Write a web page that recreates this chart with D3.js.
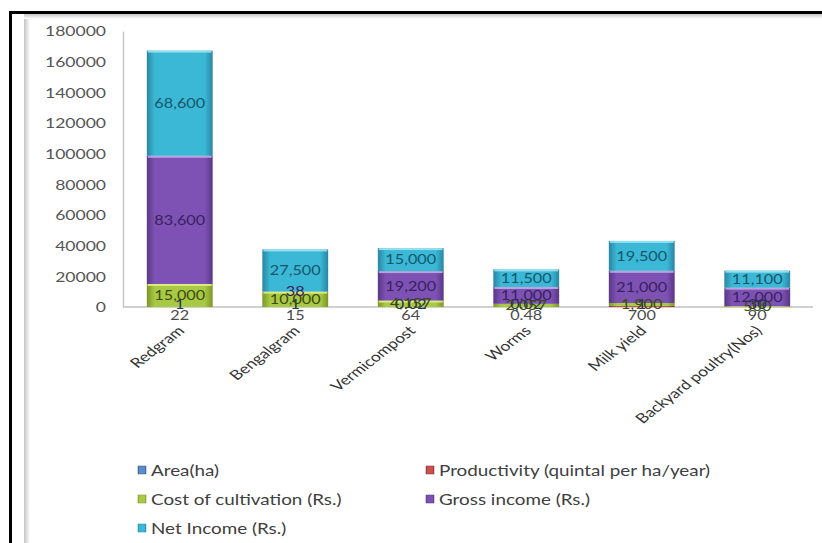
<!DOCTYPE html>
<html>
<head>
<meta charset="utf-8">
<script src="https://cdn.jsdelivr.net/npm/d3@7"></script>
<style>
  html, body { margin: 0; padding: 0; background: #fff; }
  svg { display: block; }
  text { font-family: Lato, "Open Sans", sans-serif; }
</style>
</head>
<body>
<div id="chart"></div>
<script>
// data
const categories = ['Redgram', 'Bengalgram', 'Vermicompost', 'Worms', 'Milk yield', 'Backyard poultry(Nos)'];
const area = [1, 1, 0.02, 0.02, 1, 30];
const productivity = [22, 15, 64, 0.48, 700, 90];
const costCultivation = [15000, 10000, 4157, 2057, 1900, 500];
const grossIncome = [83600, 38, 19200, 11000, 21000, 12000];
const netIncome = [68600, 27500, 15000, 11500, 19500, 11100];
const seriesNames = ['Area(ha)', 'Productivity (quintal per ha/year)', 'Cost of cultivation (Rs.)', 'Gross income (Rs.)', 'Net Income (Rs.)'];
const yTicks = [0, 20000, 40000, 60000, 80000, 100000, 120000, 140000, 160000, 180000];

const keys = ['area', 'prod', 'cost', 'gross', 'net'];
const colors = {
  area:  {edge: '#34598a', mid: '#5b8cc8', top: '#9dbbe2', label: '#1f3550'},
  prod:  {edge: '#8a2f2d', mid: '#c9524f', top: '#e49a98', label: '#5a1e1c'},
  cost:  {edge: '#7a9626', mid: '#a8c944', top: '#e6f08a', label: '#3c4a0c'},
  gross: {edge: '#5a3786', mid: '#7d52b4', top: '#c6b2e6', label: '#38215f'},
  net:   {edge: '#2886a2', mid: '#3bb8d6', top: '#a6e6f4', label: '#14566a'}
};

const rows = categories.map((c, i) => ({
  cat: c, area: area[i], prod: productivity[i], cost: costCultivation[i],
  gross: grossIncome[i], net: netIncome[i]
}));

const W = 822, H = 543;
const SX = 1.3; // the source picture is stretched sideways, text too

const svg = d3.select('#chart').append('svg')
  .attr('width', W).attr('height', H);

const defs = svg.append('defs');
keys.forEach(k => {
  const g = defs.append('linearGradient').attr('id', 'grad-' + k)
    .attr('x1', '0%').attr('x2', '100%').attr('y1', '0%').attr('y2', '0%');
  [[0, colors[k].edge], [0.12, colors[k].mid], [0.5, colors[k].mid], [0.88, colors[k].mid], [1, colors[k].edge]]
    .forEach(s => g.append('stop').attr('offset', s[0]).attr('stop-color', s[1]));
});
const shadeL = defs.append('linearGradient').attr('id', 'shadeL')
  .attr('x1', '0%').attr('x2', '100%');
shadeL.append('stop').attr('offset', 0).attr('stop-color', '#c4c4c4');
shadeL.append('stop').attr('offset', 1).attr('stop-color', '#ffffff');
const shadeT = defs.append('linearGradient').attr('id', 'shadeT')
  .attr('x1', '0%').attr('x2', '0%').attr('y1', '0%').attr('y2', '100%');
shadeT.append('stop').attr('offset', 0).attr('stop-color', '#c8c8c8');
shadeT.append('stop').attr('offset', 1).attr('stop-color', '#ffffff');

// frame of the picture
svg.append('rect').attr('x', 24).attr('y', 15).attr('width', 6).attr('height', H - 15).attr('fill', 'url(#shadeL)');
svg.append('rect').attr('x', 24).attr('y', 14).attr('width', W - 24).attr('height', 5).attr('fill', 'url(#shadeT)');
svg.append('rect').attr('x', 9).attr('y', 11).attr('width', W - 9).attr('height', 3).attr('fill', '#000');
svg.append('rect').attr('x', 9).attr('y', 11).attr('width', 3).attr('height', H - 11).attr('fill', '#000');

// scales
const x = d3.scaleBand()
  .domain(categories)
  .range([122, 815])
  .paddingInner(0.43)
  .paddingOuter(0.215);

const y = d3.scaleLinear()
  .domain([0, 180000])
  .range([307, 31]);

// stretched text helper
function stext(g, tx, ty, str, opts) {
  return g.append('text')
    .attr('transform', `translate(${tx},${ty}) scale(${SX},1)` + (opts.rotate ? ` rotate(${opts.rotate})` : ''))
    .attr('text-anchor', opts.anchor || 'middle')
    .attr('dominant-baseline', 'central')
    .attr('font-size', opts.size || 12.5)
    .attr('fill', opts.fill || '#404040')
    .text(str);
}

// y axis
const yAxis = d3.axisLeft(y).tickValues(yTicks).tickSize(0).tickFormat('');
const yAxisG = svg.append('g').attr('transform', 'translate(123,0)').call(yAxis);
yAxisG.select('.domain').attr('stroke', '#c8c8c8').attr('stroke-width', 1.5);
yTicks.forEach(v => stext(svg, 106, y(v), String(v), {anchor: 'end', size: 13.5, fill: '#555'}));

// baseline
const xAxis = d3.axisBottom(x).tickSize(0).tickFormat('');
const xAxisG = svg.append('g').attr('transform', `translate(0,${y(0)})`).call(xAxis);
xAxisG.select('.domain').attr('stroke', '#c0c0c0').attr('stroke-width', 1.5).attr('d', 'M123,0H813');

// stacks
const stack = d3.stack().keys(keys);
const series = stack(rows);

const barG = svg.append('g');
series.forEach(s => {
  const k = s.key;
  const g = barG.append('g').attr('class', 'series-' + k);
  g.selectAll('rect.seg')
    .data(s)
    .enter()
    .append('rect')
    .attr('class', 'seg')
    .attr('x', d => x(d.data.cat))
    .attr('width', x.bandwidth())
    .attr('y', d => y(d[1]))
    .attr('height', d => Math.max(0, y(d[0]) - y(d[1])))
    .attr('fill', `url(#grad-${k})`);
  // light top edge
  g.selectAll('rect.hi')
    .data(s.filter(d => y(d[0]) - y(d[1]) > 4))
    .enter()
    .append('rect')
    .attr('class', 'hi')
    .attr('x', d => x(d.data.cat) + 1)
    .attr('width', x.bandwidth() - 2)
    .attr('y', d => y(d[1]))
    .attr('height', 2)
    .attr('fill', colors[k].top)
    .attr('opacity', 0.85);
});

// data labels
const fmt = v => v >= 1000 ? d3.format(',')(v) : String(v);
const labelG = svg.append('g');
series.forEach(s => {
  const k = s.key;
  s.forEach(d => {
    const cx = x(d.data.cat) + x.bandwidth() / 2;
    let cy = (y(d[0]) + y(d[1])) / 2;
    let fill = colors[k].label;
    if (k === 'area') cy = y(0) - 3;
    if (k === 'prod') { cy = y(0) + 8; fill = '#4a4a4a'; }
    stext(labelG, cx, cy, fmt(d.data[k]), {size: 12.5, fill: fill});
  });
});

// category labels
categories.forEach(c => {
  stext(svg, x(c) + x.bandwidth() / 2 + 1, 328, c, {anchor: 'end', rotate: -45, size: 13.5, fill: '#333'});
});

// legend
const legendPos = [[138, 470], [426, 470], [138, 499], [426, 499], [138, 528]];
const legend = svg.append('g');
keys.forEach((k, i) => {
  const [lx, ly] = legendPos[i];
  legend.append('rect')
    .attr('x', lx).attr('y', ly - 4)
    .attr('width', 8).attr('height', 8)
    .attr('fill', `url(#grad-${k})`)
    .attr('stroke', colors[k].edge).attr('stroke-width', 0.5);
  stext(legend, lx + 13, ly, seriesNames[i], {anchor: 'start', size: 14.5, fill: '#404040'});
});
</script>
</body>
</html>
